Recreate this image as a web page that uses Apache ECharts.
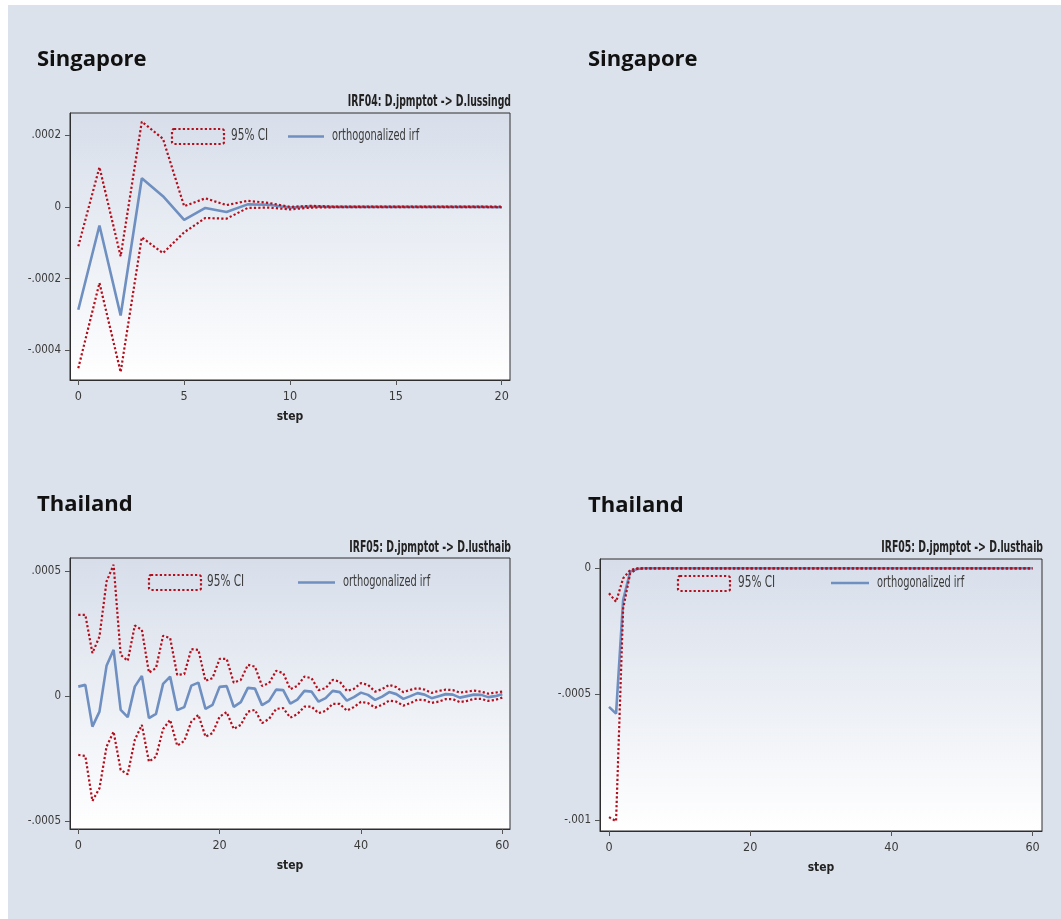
<!DOCTYPE html>
<html><head><meta charset="utf-8">
<script src="https://cdn.jsdelivr.net/npm/echarts/dist/echarts.min.js"></script>
<style>html,body{margin:0;padding:0;background:#fff;}#c{width:1061px;height:919px;}</style>
</head><body><div id="c"></div>
<script>
// ---- Data ----
// Panel 1: Singapore, IRF04: D.jpmptot -> D.lussingd, steps 0..20
const sgIrf = [-0.000287, -0.000052, -0.000303, 0.000080, 0.000030, -0.000036, -0.000003, -0.000014, 0.000007, 0.000006,
  -0.000002, 0.000001, 0, 0, 0, 0, 0, 0, 0, 0, -0.000001];
const sgHi = [-0.000110, 0.000111, -0.000138, 0.000238, 0.000190, 0.000002, 0.000024, 0.000005, 0.000017, 0.000011,
  0.000000, 0.000003, 0.000001, 0.000001, 0.000001, 0.000001, 0.000001, 0.000001, 0.000001, 0.000001, 0.000001];
const sgLo = [-0.000450, -0.000212, -0.000461, -0.000085, -0.000129, -0.000071, -0.000031, -0.000033, -0.000003, -0.000002,
  -0.000007, -0.000002, -0.000001, -0.000001, -0.000001, -0.000001, -0.000001, -0.000001, -0.000001, -0.000001, -0.000001];

// Panel 2: Thailand, IRF05: D.jpmptot -> D.lusthaib, steps 0..60 (left)
const thIrf = [3.7e-5, 4.4e-5, -1.23e-4, -6.3e-5, 1.2e-4, 1.84e-4, -5.6e-5, -8.5e-5, 3.7e-5, 8.0e-5,
  -8.9e-5, -7.2e-5, 4.8e-5, 7.7e-5, -5.7e-5, -4.5e-5, 4.1e-5, 5.3e-5, -5.2e-5, -3.6e-5,
  3.6e-5, 3.9e-5, -4.4e-5, -2.5e-5, 3.2e-5, 2.9e-5, -3.7e-5, -2.0e-5, 2.5e-5, 2.3e-5,
  -3.1e-5, -1.5e-5, 2.0e-5, 1.7e-5, -2.3e-5, -9e-6, 2.0e-5, 1.5e-5, -1.9e-5, -5e-6,
  1.3e-5, 4e-6, -1.6e-5, -3e-6, 1.5e-5, 7e-6, -1.2e-5, -1e-6, 1.1e-5, 5e-6,
  -9e-6, -1e-6, 7e-6, 5e-6, -7e-6, -1e-6, 5e-6, 4e-6, -5e-6, -1e-6,
  7e-6];
const thHi = [3.24e-4, 3.24e-4, 1.71e-4, 2.37e-4, 4.57e-4, 5.24e-4, 1.64e-4, 1.40e-4, 2.81e-4, 2.64e-4,
  9.3e-5, 1.11e-4, 2.40e-4, 2.31e-4, 8.4e-5, 8.7e-5, 1.87e-4, 1.84e-4, 6.0e-5, 7.1e-5,
  1.48e-4, 1.48e-4, 5.3e-5, 6.4e-5, 1.24e-4, 1.17e-4, 4.0e-5, 5.1e-5, 1.00e-4, 9.1e-5,
  2.7e-5, 4.0e-5, 7.7e-5, 7.1e-5, 2.3e-5, 3.1e-5, 6.4e-5, 5.7e-5, 2.0e-5, 2.8e-5,
  5.1e-5, 4.4e-5, 1.7e-5, 2.7e-5, 4.4e-5, 3.5e-5, 1.5e-5, 2.4e-5, 3.1e-5, 2.5e-5,
  1.2e-5, 2.0e-5, 2.5e-5, 2.3e-5, 1.3e-5, 1.7e-5, 2.1e-5, 1.7e-5, 9e-6, 1.3e-5,
  1.7e-5];
const thLo = [-2.36e-4, -2.40e-4, -4.20e-4, -3.69e-4, -2.03e-4, -1.43e-4, -2.96e-4, -3.13e-4, -1.76e-4, -1.16e-4,
  -2.63e-4, -2.43e-4, -1.33e-4, -9.6e-5, -1.99e-4, -1.80e-4, -1.03e-4, -7.6e-5, -1.63e-4, -1.49e-4,
  -8.3e-5, -6.5e-5, -1.32e-4, -1.16e-4, -6.3e-5, -5.6e-5, -1.09e-4, -9.2e-5, -5.2e-5, -4.9e-5,
  -8.7e-5, -7.3e-5, -4.3e-5, -4.3e-5, -6.9e-5, -6.0e-5, -3.2e-5, -3.2e-5, -5.9e-5, -4.5e-5,
  -2.4e-5, -2.9e-5, -4.7e-5, -3.6e-5, -1.9e-5, -2.3e-5, -3.9e-5, -2.9e-5, -1.5e-5, -1.7e-5,
  -2.8e-5, -2.3e-5, -1.3e-5, -1.3e-5, -2.5e-5, -2.0e-5, -1.2e-5, -1.2e-5, -2.0e-5, -1.6e-5,
  -7e-6];

// Panel 3: Thailand, IRF05: D.jpmptot -> D.lusthaib, steps 0..60 (right)
const th2Irf = [-5.50e-4, -5.77e-4, -1.26e-4, -1.3e-5, -3e-6, 0, 0, 0, 0, 0,
  0, 0, 0, 0, 0, 0, 0, 0, 0, 0,
  0, 0, 0, 0, 0, 0, 0, 0, 0, 0,
  0, 0, 0, 0, 0, 0, 0, 0, 0, 0,
  0, 0, 0, 0, 0, 0, 0, 0, 0, 0,
  0, 0, 0, 0, 0, 0, 0, 0, 0, 0,
  0];
const th2Hi = [-9.9e-5, -1.33e-4, -4.0e-5, -7e-6, 0, 0, 0, 0, 0, 0,
  0, 0, 0, 0, 0, 0, 0, 0, 0, 0,
  0, 0, 0, 0, 0, 0, 0, 0, 0, 0,
  0, 0, 0, 0, 0, 0, 0, 0, 0, 0,
  0, 0, 0, 0, 0, 0, 0, 0, 0, 0,
  0, 0, 0, 0, 0, 0, 0, 0, 0, 0,
  0];
const th2Lo = [-9.88e-4, -1.004e-3, -1.60e-4, -2.0e-5, -2e-6, 0, 0, 0, 0, 0,
  0, 0, 0, 0, 0, 0, 0, 0, 0, 0,
  0, 0, 0, 0, 0, 0, 0, 0, 0, 0,
  0, 0, 0, 0, 0, 0, 0, 0, 0, 0,
  0, 0, 0, 0, 0, 0, 0, 0, 0, 0,
  0, 0, 0, 0, 0, 0, 0, 0, 0, 0,
  0];

// Tick values
const sgXTicks = [0, 5, 10, 15, 20];
const sgYTicks = [-0.0004, -0.0002, 0, 0.0002];
const thXTicks = [0, 20, 40, 60];
const thYTicks = [-0.0005, 0, 0.0005];
const th2XTicks = [0, 20, 40, 60];
const th2YTicks = [-0.001, -0.0005, 0];

const panelTitles = ['Singapore', 'Singapore', 'Thailand', 'Thailand'];
const subTitles = ['IRF04: D.jpmptot -> D.lussingd', 'IRF05: D.jpmptot -> D.lusthaib', 'IRF05: D.jpmptot -> D.lusthaib'];
const legendNames = ['95% CI', 'orthogonalized irf'];
const xName = 'step';

// ---- Styling ----
const NARROW = "'Liberation Sans Narrow', 'DejaVu Sans Condensed', 'Noto Sans', sans-serif";
const TITLEF = "'Open Sans', 'Noto Sans', sans-serif";
const RED = '#b30e1c';
const BLUE = '#6e8fc0';
const plotBg = {type: 'linear', x: 0, y: 0, x2: 0, y2: 1,
  colorStops: [{offset: 0, color: '#d7deea'}, {offset: 1, color: '#ffffff'}]};

function yFmt(v) {
  if (Math.abs(v) < 1e-12) return '0';
  let s = String(+v.toPrecision(6));
  return s.replace(/^(-?)0\./, '$1.');
}
function pairs(arr) { return arr.map((v, i) => [i, v]); }

const grids = [
  {left: 70, top: 113, width: 440, height: 267},
  {left: 70, top: 558, width: 440, height: 271},
  {left: 600, top: 559, width: 442, height: 272}
].map(g => Object.assign(g, {show: true, backgroundColor: plotBg, borderColor: '#2e2e2e', borderWidth: 1, containLabel: false}));

function xAxis(gi, min, max, ticks) {
  return {
    type: 'value', gridIndex: gi, min: min, max: max,
    name: xName, nameLocation: 'middle', nameGap: 31,
    nameTextStyle: {fontFamily: NARROW, fontWeight: 'bold', fontSize: 12, color: '#222'},
    axisLine: {show: true, onZero: false, lineStyle: {color: '#2e2e2e', width: 1}},
    axisTick: {show: true, length: 5, customValues: ticks, lineStyle: {color: '#555'}},
    axisLabel: {show: true, customValues: ticks, margin: 10, fontFamily: NARROW, fontSize: 12.5, color: '#3a3a3a'},
    splitLine: {show: false}
  };
}
function yAxis(gi, min, max, ticks) {
  return {
    type: 'value', gridIndex: gi, min: min, max: max,
    axisLine: {show: true, onZero: false, lineStyle: {color: '#2e2e2e', width: 1}},
    axisTick: {show: true, length: 5, customValues: ticks, lineStyle: {color: '#555'}},
    axisLabel: {show: true, customValues: ticks, margin: 9, fontFamily: NARROW, fontSize: 11.5, color: '#3a3a3a', formatter: yFmt},
    splitLine: {show: false}
  };
}
function ser(gi, name, data, isCI) {
  return {
    type: 'line', name: name, xAxisIndex: gi, yAxisIndex: gi, data: pairs(data),
    symbol: 'none', showSymbol: false, silent: true, z: isCI ? 3 : 2,
    lineStyle: isCI ? {color: RED, width: 2.2, type: [2.2, 2.2]} : {color: BLUE, width: 2.6}
  };
}

function legendGroup(rx, ry, textX, lx1, lx2, t2x, cy) {
  return [
    {type: 'rect', shape: {x: rx, y: ry, width: 52, height: 15, r: 2}, style: {fill: 'none', stroke: RED, lineWidth: 2.2, lineDash: [2.2, 2.2]}, z: 10},
    {type: 'text', x: textX, y: cy, scaleX: 0.78, style: {text: legendNames[0], font: '15px ' + NARROW, fill: '#3a3a3a', textVerticalAlign: 'middle'}, z: 10},
    {type: 'line', shape: {x1: lx1, y1: cy, x2: lx2, y2: cy}, style: {stroke: BLUE, lineWidth: 2.6}, z: 10},
    {type: 'text', x: t2x, y: cy, scaleX: 0.73, style: {text: legendNames[1], font: '15px ' + NARROW, fill: '#3a3a3a', textVerticalAlign: 'middle'}, z: 10}
  ];
}
function subTitle(x, y, t) {
  return {type: 'text', x: x, y: y, scaleX: 0.69, style: {text: t, font: 'bold 15px ' + NARROW, fill: '#222', textAlign: 'right', textVerticalAlign: 'middle'}};
}

const graphic = [
  {type: 'rect', shape: {x: 8, y: 5, width: 1053, height: 914}, style: {fill: '#dce2eb'}, z: -10},
  {type: 'text', x: 37, y: 60, style: {text: panelTitles[0], font: 'bold 22px ' + TITLEF, fill: '#111', textVerticalAlign: 'middle'}},
  {type: 'text', x: 588, y: 60, style: {text: panelTitles[1], font: 'bold 22px ' + TITLEF, fill: '#111', textVerticalAlign: 'middle'}},
  {type: 'text', x: 37, y: 505, style: {text: panelTitles[2], font: 'bold 22px ' + TITLEF, fill: '#111', textVerticalAlign: 'middle'}},
  {type: 'text', x: 588, y: 506, style: {text: panelTitles[3], font: 'bold 22px ' + TITLEF, fill: '#111', textVerticalAlign: 'middle'}},
  subTitle(511, 102, subTitles[0]),
  subTitle(511, 548, subTitles[1]),
  subTitle(1043, 548, subTitles[2])
].concat(
  legendGroup(172, 129, 231, 288, 324, 332, 136.5),
  legendGroup(149, 575, 207, 298, 335, 343, 582.5),
  legendGroup(678, 576, 738, 831, 869, 877, 583)
);

const option = {
  animation: false,
  backgroundColor: '#ffffff',
  grid: grids,
  xAxis: [
    xAxis(0, -0.392, 20.392, sgXTicks),
    xAxis(1, -1.17, 61.09, thXTicks),
    xAxis(2, -1.276, 61.33, th2XTicks)
  ],
  yAxis: [
    yAxis(0, -0.000483, 0.000262, sgYTicks),
    yAxis(1, -0.000532, 0.000551, thYTicks),
    yAxis(2, -0.001043, 0.000037, th2YTicks)
  ],
  series: [
    ser(0, legendNames[1], sgIrf, false), ser(0, legendNames[0], sgHi, true), ser(0, legendNames[0] + ' lo', sgLo, true),
    ser(1, legendNames[1], thIrf, false), ser(1, legendNames[0], thHi, true), ser(1, legendNames[0] + ' lo', thLo, true),
    ser(2, legendNames[1], th2Irf, false), ser(2, legendNames[0], th2Hi, true), ser(2, legendNames[0] + ' lo', th2Lo, true)
  ],
  graphic: graphic
};
const chart = echarts.init(document.getElementById('c'), null, {renderer: 'canvas'});
chart.setOption(option);
</script></body></html>
